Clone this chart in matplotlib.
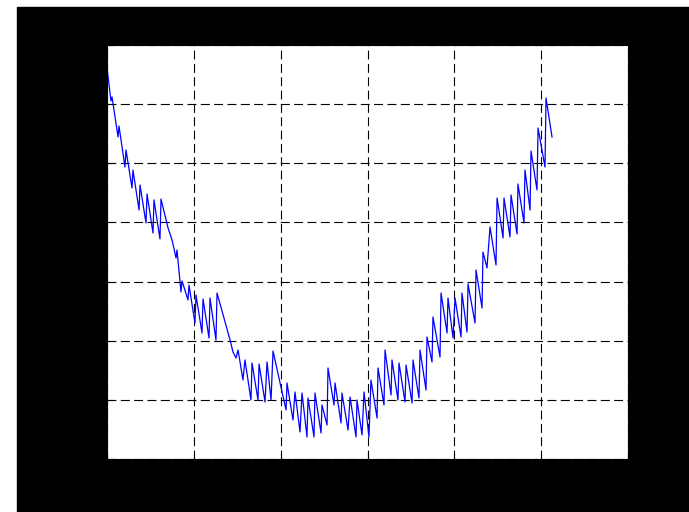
import numpy as np
import matplotlib.pyplot as plt
from matplotlib.patches import Rectangle

# sawtooth curve (x in grid units 0..6, y in 0..7)
x = [0.000, 0.046, 0.058, 0.127, 0.138, 0.207, 0.219, 0.288, 0.299, 0.369,
     0.380, 0.449, 0.461, 0.530, 0.541, 0.610, 0.622, 0.703, 0.749, 0.795,
     0.806, 0.852, 0.864, 0.933, 0.944, 1.013, 1.025, 1.094, 1.106, 1.175,
     1.186, 1.255, 1.267, 1.347, 1.417, 1.451, 1.486, 1.509, 1.566, 1.589,
     1.658, 1.670, 1.739, 1.751, 1.820, 1.843, 1.889, 1.912, 2.062, 2.073,
     2.142, 2.165, 2.223, 2.246, 2.303, 2.315, 2.384, 2.395, 2.465, 2.476,
     2.534, 2.545, 2.614, 2.626, 2.695, 2.706, 2.776, 2.799, 2.868, 2.879,
     2.937, 2.960, 3.017, 3.040, 3.110, 3.121, 3.190, 3.202, 3.271, 3.282,
     3.351, 3.363, 3.432, 3.444, 3.513, 3.524, 3.593, 3.605, 3.674, 3.685,
     3.743, 3.754, 3.835, 3.847, 3.916, 3.927, 3.985, 4.008, 4.077, 4.088,
     4.146, 4.158, 4.238, 4.250, 4.319, 4.330, 4.376, 4.411, 4.480, 4.492,
     4.561, 4.572, 4.641, 4.653, 4.722, 4.733, 4.802, 4.814, 4.872, 4.883,
     4.952, 4.964, 5.044, 5.056, 5.125]
y = [6.611, 6.053, 6.121, 5.445, 5.631, 4.937, 5.225, 4.582, 4.887, 4.210,
     4.633, 3.991, 4.481, 3.821, 4.381, 3.720, 4.396, 3.906, 3.703, 3.399,
     3.534, 2.824, 3.010, 2.689, 2.942, 2.300, 2.773, 2.131, 2.705, 2.046,
     2.722, 2.012, 2.807, 2.384, 2.012, 1.809, 1.708, 1.843, 1.336, 1.674,
     0.998, 1.623, 0.998, 1.606, 0.964, 1.640, 0.998, 1.826, 0.829, 1.285,
     0.659, 1.133, 0.457, 1.116, 0.372, 1.031, 0.372, 1.116, 0.440, 0.913,
     0.575, 1.539, 0.913, 1.285, 0.609, 1.116, 0.490, 1.048, 0.372, 0.998,
     0.406, 1.133, 0.372, 1.336, 0.693, 1.539, 0.913, 1.843, 1.082, 1.674,
     0.998, 1.623, 0.964, 1.589, 0.947, 1.674, 1.031, 1.843, 1.167, 2.063,
     1.640, 2.401, 1.725, 2.807, 2.131, 2.722, 2.046, 2.722, 2.063, 2.807,
     2.147, 2.959, 2.300, 3.196, 2.553, 3.500, 3.230, 3.923, 3.280, 4.413,
     3.737, 4.413, 3.754, 4.464, 3.805, 4.650, 3.991, 4.887, 4.210, 5.208,
     4.549, 5.597, 4.937, 6.104, 5.445]

fig = plt.figure(figsize=(6.89, 5.12), dpi=100, facecolor='white')
fig.patches.append(Rectangle((17/689, 0), 1 - 17/689, 505/512,
                             transform=fig.transFigure, color='black', zorder=-10))

ax = fig.add_axes([107/689, 53/512, 521/689, 414/512])
ax.set_zorder(5)
ax.set_facecolor('white')
ax.plot(x, y, color=(0, 0, 1), linewidth=0.9)

ax.set_xlim(0, 6)
ax.set_ylim(0, 7)
ax.set_xticks(range(0, 7))
ax.set_yticks(range(0, 8))
ax.tick_params(direction='in', length=4, colors='black', labelcolor='black')
ax.grid(True, color='black', linestyle=(0, (8, 4)), linewidth=0.8)
for s in ax.spines.values():
    s.set_color('black')

fig.savefig('out.png', dpi=100, facecolor=fig.get_facecolor())
